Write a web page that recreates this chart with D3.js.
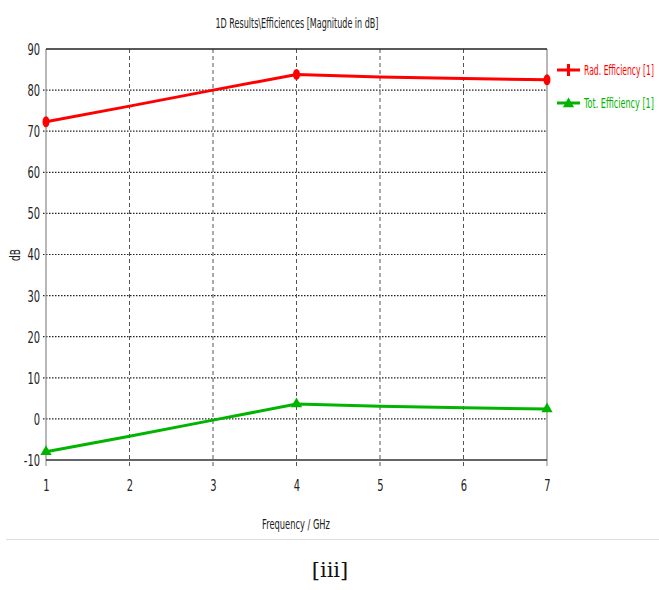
<!DOCTYPE html>
<html><head><meta charset="utf-8">
<script src="https://cdn.jsdelivr.net/npm/d3@7"></script>
<style>body{margin:0;background:#fff}</style>
</head><body>
<svg id="c" width="659" height="590"></svg>
<script>
const freq = [1, 2, 3, 4, 5, 6, 7];
const radEff = [72.3, 76.1, 80.0, 83.8, 83.2, 82.8, 82.5];
const totEff = [-8.0, -4.2, -0.3, 3.6, 3.1, 2.7, 2.4];
const markerFreqs = [1, 4, 7];
const yTicks = [-10, 0, 10, 20, 30, 40, 50, 60, 70, 80, 90];
const xTicks = [1, 2, 3, 4, 5, 6, 7];
const seriesNames = ["Rad. Efficiency [1]", "Tot. Efficiency [1]"];
const colors = ["#ff0000", "#00b400"];

const font = "'DejaVu Sans',sans-serif";
const svg = d3.select("#c");
const L = 46, R = 547, T = 49, B = 460;
const x = d3.scaleLinear().domain([1, 7]).range([L, R]);
const y = d3.scaleLinear().domain([-10, 90]).range([B, T]);

function condense(sel, target) {
  sel.each(function () {
    const w = this.getComputedTextLength();
    const t = typeof target === "number" && target > 1 ? target : w * (target || 0.68);
    d3.select(this).attr("textLength", t).attr("lengthAdjust", "spacingAndGlyphs");
  });
}
// place text at (px,py) squeezed horizontally to a given width using a transform
function squeezed(parent, px, py, str, width, size, color, anchor) {
  const t = parent.append("text").attr("font-family", font).attr("font-size", size)
    .attr("fill", color).attr("text-anchor", anchor || "start").text(str);
  const w = t.node().getComputedTextLength();
  t.attr("transform", `translate(${px},${py}) scale(${width / w},1)`);
  return t;
}

// grid
svg.append("g").selectAll("line").data(yTicks.filter(v => v > -10 && v < 90)).join("line")
  .attr("x1", L - 3).attr("x2", R).attr("y1", d => y(d)).attr("y2", d => y(d))
  .attr("stroke", "#222").attr("stroke-width", 1.2).attr("stroke-dasharray", "1.5,1.5");
svg.append("g").selectAll("line").data(xTicks.filter(v => v > 1 && v < 7)).join("line")
  .attr("x1", d => x(d)).attr("x2", d => x(d)).attr("y1", T).attr("y2", B + 6)
  .attr("stroke", "#555").attr("stroke-width", 1).attr("stroke-dasharray", "4,3");
svg.append("line").attr("x1", L).attr("x2", L).attr("y1", B).attr("y2", B + 6).attr("stroke", "#888");
svg.append("line").attr("x1", R).attr("x2", R).attr("y1", B).attr("y2", B + 6).attr("stroke", "#888");

// frame
svg.append("line").attr("x1", L).attr("x2", L).attr("y1", T).attr("y2", B).attr("stroke", "#888").attr("stroke-width", 1.2);
svg.append("line").attr("x1", R).attr("x2", R).attr("y1", T).attr("y2", B).attr("stroke", "#888").attr("stroke-width", 1.2);
svg.append("line").attr("x1", L).attr("x2", R).attr("y1", T).attr("y2", T).attr("stroke", "#222").attr("stroke-width", 1.5);
svg.append("line").attr("x1", L).attr("x2", R).attr("y1", B).attr("y2", B).attr("stroke", "#333").attr("stroke-width", 1.5);

// axes labels
const yAxis = svg.append("g").attr("transform", `translate(${L - 5},0)`)
  .call(d3.axisLeft(y).tickValues(yTicks).tickSize(0).tickPadding(1).tickFormat(d => String(d)));
yAxis.select(".domain").remove();
yAxis.selectAll("text").attr("font-family", font).attr("font-size", 15).attr("fill", "#222")
  .attr("dy", "0.36em").call(condense, 0.66);
const xAxis = svg.append("g").attr("transform", `translate(0,${B + 20})`)
  .call(d3.axisBottom(x).tickValues(xTicks).tickSize(0).tickPadding(0).tickFormat(d => String(d)));
xAxis.select(".domain").remove();
xAxis.selectAll("text").attr("font-family", font).attr("font-size", 15).attr("fill", "#222")
  .call(condense, 0.66);

// titles
squeezed(svg, 297, 28, "1D Results\\Efficiences [Magnitude in dB]", 163, 14.5, "#222", "middle");
squeezed(svg, 296, 529, "Frequency / GHz", 68, 14.5, "#222", "middle");
svg.append("text").attr("transform", "translate(20,255) rotate(-90)").attr("text-anchor", "middle")
  .attr("font-family", font).attr("font-size", 14.5).attr("fill", "#222").text("dB").call(condense, 12);

// data lines
const series = [radEff, totEff];
const line = d3.line().x((d, i) => x(freq[i])).y(d => y(d));
series.forEach((s, k) => {
  svg.append("path").datum(s).attr("d", line).attr("fill", "none")
    .attr("stroke", colors[k]).attr("stroke-width", 3);
});
// markers
const mk = freq.map((f, i) => i).filter(i => markerFreqs.includes(freq[i]));
svg.append("g").selectAll("ellipse").data(mk).join("ellipse")
  .attr("cx", i => x(freq[i])).attr("cy", i => y(radEff[i])).attr("rx", 3.5).attr("ry", 5.5)
  .attr("fill", colors[0]);
const tri = d3.symbol().type(d3.symbolTriangle).size(55);
svg.append("g").selectAll("path").data(mk).join("path")
  .attr("transform", i => `translate(${x(freq[i])},${y(totEff[i])})`).attr("d", tri())
  .attr("fill", colors[1]);

// legend
seriesNames.forEach((n, k) => {
  const ly = 70 + k * 33;
  svg.append("line").attr("x1", 557).attr("x2", 580).attr("y1", ly).attr("y2", ly)
    .attr("stroke", colors[k]).attr("stroke-width", 3);
  if (k === 0) {
    svg.append("line").attr("x1", 568.5).attr("x2", 568.5).attr("y1", ly - 6).attr("y2", ly + 6)
      .attr("stroke", colors[k]).attr("stroke-width", 3);
  } else {
    svg.append("path").attr("transform", `translate(568.5,${ly + 1})`).attr("d", tri()).attr("fill", colors[k]);
  }
  squeezed(svg, 584, ly + 5, n, 70, 14.5, colors[k], "start");
});

// bottom rule and caption
svg.append("line").attr("x1", 6).attr("x2", 659).attr("y1", 539.5).attr("y2", 539.5)
  .attr("stroke", "#ddd").attr("stroke-width", 1);
svg.append("text").attr("x", 330).attr("y", 577).attr("text-anchor", "middle")
  .attr("font-family", "'DejaVu Serif','Liberation Serif',serif").attr("font-size", 21).attr("fill", "#111")
  .text("[iii]");
</script>
</body></html>
